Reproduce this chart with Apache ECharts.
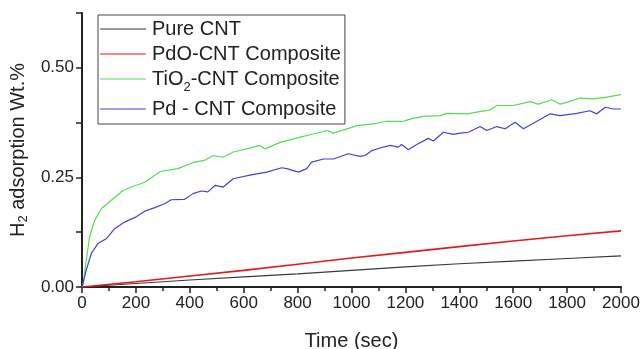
<!DOCTYPE html>
<html><head><meta charset="utf-8">
<script src="https://cdn.jsdelivr.net/npm/echarts@6/dist/echarts.min.js"></script>
<style>html,body{margin:0;padding:0;background:#fff}#c{width:641px;height:349px}</style>
</head><body><div id="c"></div>
<script>
var seriesNames = ['Pure CNT', 'PdO-CNT Composite', 'TiO2-CNT Composite', 'Pd - CNT Composite'];
var xTickLabels = [0, 200, 400, 600, 800, 1000, 1200, 1400, 1600, 1800, 2000];
var yTickLabels = ['0.00', '0.25', '0.50'];

var pureTime = [0, 200, 400, 600, 800, 1000, 1200, 1400, 1600, 1800, 2000];
var pureVal  = [0, 0.008, 0.016, 0.023, 0.030, 0.038, 0.046, 0.053, 0.059, 0.065, 0.071];

var pdoTime = [0, 200, 400, 600, 800, 1000, 1200, 1400, 1600, 1800, 2000];
var pdoVal  = [0, 0.012, 0.025, 0.038, 0.052, 0.066, 0.079, 0.092, 0.105, 0.117, 0.128];

var tioTime = [0,4,16,28,47,72,109,152,183,201,233,270,294,356,418,455,487,524,561,611,660,679,735,809,858,908,933,995,1019,1081,1131,1192,1217,1267,1329,1353,1428,1514,1539,1600,1663,1693,1743,1774,1799,1848,1898,1947,2000];
var tioVal  = [0,0.005,0.061,0.114,0.152,0.179,0.198,0.22,0.228,0.232,0.239,0.255,0.264,0.27,0.285,0.289,0.30,0.296,0.308,0.315,0.323,0.315,0.33,0.342,0.349,0.357,0.351,0.363,0.368,0.372,0.378,0.378,0.383,0.389,0.391,0.396,0.395,0.404,0.414,0.414,0.423,0.417,0.427,0.417,0.421,0.431,0.429,0.433,0.439];

var pdTime = [0,16,35,59,90,121,158,201,233,270,307,331,381,412,443,467,494,524,561,623,685,741,760,803,834,852,896,933,988,1032,1050,1075,1106,1143,1174,1186,1211,1242,1285,1304,1341,1378,1403,1434,1477,1502,1539,1570,1607,1638,1693,1737,1774,1836,1885,1910,1941,1972,2000];
var pdVal  = [0,0.039,0.077,0.099,0.11,0.133,0.148,0.16,0.173,0.181,0.19,0.199,0.2,0.213,0.219,0.217,0.232,0.228,0.247,0.255,0.262,0.272,0.27,0.262,0.27,0.285,0.292,0.292,0.304,0.298,0.30,0.311,0.317,0.323,0.319,0.325,0.313,0.325,0.339,0.333,0.353,0.348,0.351,0.353,0.366,0.357,0.366,0.361,0.376,0.361,0.38,0.395,0.391,0.396,0.402,0.395,0.41,0.406,0.406];

function zip(t, v) { return t.map(function (x, i) { return [x, v[i]]; }); }

var colors = ['#3a3a3a', '#e3191c', '#52dd52', '#4343d6'];
var datasets = [zip(pureTime, pureVal), zip(pdoTime, pdoVal), zip(tioTime, tioVal), zip(pdTime, pdVal)];
var widths = [1.1, 1.6, 1.2, 1.2];

var font = 'Liberation Sans, Arial, sans-serif';
var chart = echarts.init(document.getElementById('c'), null, {renderer: 'canvas'});
chart.setOption({
  animation: false,
  textStyle: {fontFamily: font},
  grid: {left: 82, right: 20, top: 13, bottom: 62, containLabel: false, outerBoundsMode: 'none'},
  xAxis: {
    type: 'value', min: 0, max: 2000, interval: 200,
    name: 'Time (sec)', nameLocation: 'middle', nameGap: 44,
    nameTextStyle: {fontSize: 20, color: '#222', fontFamily: font},
    axisLine: {show: true, lineStyle: {color: '#222', width: 2}},
    axisTick: {show: true, inside: false, length: 6, lineStyle: {color: '#222', width: 1.5}},
    minorTick: {show: true, splitNumber: 2, length: 4, lineStyle: {color: '#222', width: 1.5}},
    axisLabel: {fontSize: 17, color: '#222', margin: 8, fontFamily: font,
      formatter: function (v) { return xTickLabels.indexOf(v) >= 0 ? String(v) : ''; }},
    splitLine: {show: false}
  },
  yAxis: {
    type: 'value', min: 0, max: 0.625, interval: 0.125,
    name: '{a|H}{s|2}{a| adsorption Wt.%}', nameLocation: 'middle', nameGap: 48, nameRotate: 90,
    nameTextStyle: {fontSize: 20, color: '#222', fontFamily: font,
      rich: {a: {fontSize: 20, color: '#222', fontFamily: font},
             s: {fontSize: 13, color: '#222', fontFamily: font, padding: [10, 0, 0, 0]}}},
    axisLine: {show: true, lineStyle: {color: '#222', width: 2}},
    axisTick: {show: true, inside: false, length: 6, lineStyle: {color: '#222', width: 1.5}},
    axisLabel: {fontSize: 17, color: '#222', margin: 8, fontFamily: font,
      formatter: function (v) { var s = v.toFixed(2); return yTickLabels.indexOf(s) >= 0 ? s : ''; }},
    splitLine: {show: false}
  },
  legend: {
    orient: 'vertical', left: 98, top: 15,
    data: seriesNames.map(function (n, i) {
      return {name: n, icon: 'path://M0,0H46V1.2H0Z', itemStyle: {color: colors[i]}};
    }),
    itemWidth: 46, itemHeight: 1.2, itemGap: 5, itemStyle: {borderWidth: 0},
    padding: [4, 4, 5, 2],
    borderColor: '#444', borderWidth: 1,
    textStyle: {fontSize: 20, color: '#222', fontFamily: font, padding: [0, 0, 0, 1],
      rich: {n: {fontSize: 20, color: '#222', fontFamily: font},
             s: {fontSize: 13, color: '#222', fontFamily: font, padding: [17, 0, 0, 0]}}},
    formatter: function (name) {
      if (name.indexOf('TiO2') === 0) return '{n|TiO}{s|2}{n|-CNT Composite}';
      return name;
    }
  },
  series: seriesNames.map(function (n, i) {
    return {
      name: n, type: 'line', data: datasets[i], showSymbol: false, symbol: 'none',
      lineStyle: {color: colors[i], width: widths[i]}, itemStyle: {color: colors[i]}, z: 2 + i
    };
  })
});
</script></body></html>
